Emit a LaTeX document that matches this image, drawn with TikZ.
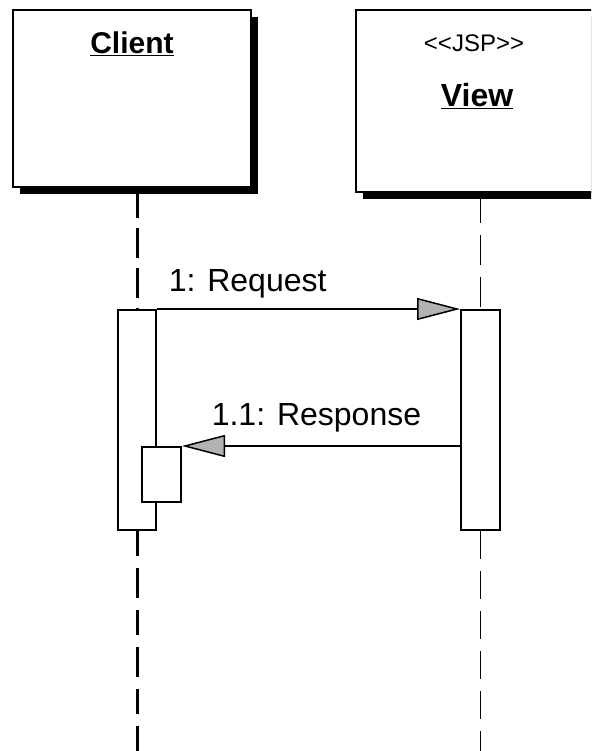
\documentclass[tikz,border=0pt]{standalone}
\usepackage{fontspec}
\setmainfont{Liberation Sans}
\usetikzlibrary{arrows.meta,positioning,shadows}

\begin{document}
\begin{tikzpicture}[x=1pt, y=-1pt,
    obj/.style={draw, line width=2pt, fill=white, inner sep=0pt,
        minimum width=238pt, minimum height=177pt,
        drop shadow={shadow xshift=7pt, shadow yshift=-7pt, fill=black, opacity=1}},
    act/.style={draw, line width=2pt, fill=white, inner sep=0pt, minimum width=38pt},
    msg/.style={line width=1.6pt, -{Triangle[length=43pt, width=22pt, fill=gray!60, line width=1.5pt]}},
    lbl/.style={inner sep=0pt, font=\fontsize{32}{32}\selectfont}]
    \clip (0,0) rectangle (591,751);
    % objects
    \node[obj] (client) at (132,98.5) {};
    \node[obj, minimum width=248pt, minimum height=182pt] (view) at (480,101) {};
    \node[lbl, font=\fontsize{30}{30}\selectfont\bfseries, below=23pt of client.north] (clientname) {\underline{Client}};
    \node[lbl, font=\fontsize{24}{24}\selectfont, below=26pt of view.north, xshift=-6pt] (jsp) {{<}{<}JSP{>}{>}};
    \node[lbl, font=\fontsize{32}{32}\selectfont\bfseries, below=74pt of view.north, xshift=-3pt] (viewname) {\underline{View}};
    % activations
    \node[act, minimum height=220pt] (clientact) at (137,420) {};
    \node[act, minimum width=39pt, minimum height=220pt] (viewact) at (480.5,420) {};
    \node[act, minimum width=39pt, minimum height=55pt] (clientsub) at (161.5,474.5) {};
    \coordinate (clientend) at (137,751);
    \coordinate (viewend) at (480.5,751);
    % lifelines
    \draw[line width=3pt, dash pattern=on 30pt off 10pt] (clientact.north |- client.south) -- (clientact.north);
    \draw[line width=3pt, dash pattern=on 25pt off 12pt on 30pt off 12pt] (clientact.south) -- (clientend);
    \draw[line width=1.5pt, dash pattern=on 30pt off 12pt] (viewact.north |- view.south) -- (viewact.north);
    \draw[line width=1.5pt, dash pattern=on 28pt off 12pt] (viewact.south) -- (viewend);
    % messages
    \draw[msg] (clientact.north east) -- (viewact.north west)
        node[lbl, pos=0, anchor=base west, xshift=11pt, yshift=18pt] {1: Request};
    \draw[msg] (viewact.west |- clientsub.north) -- (clientsub.north east)
        node[lbl, pos=1, anchor=base west, xshift=29pt, yshift=21pt] {1.1: Response};
\end{tikzpicture}
\end{document}
